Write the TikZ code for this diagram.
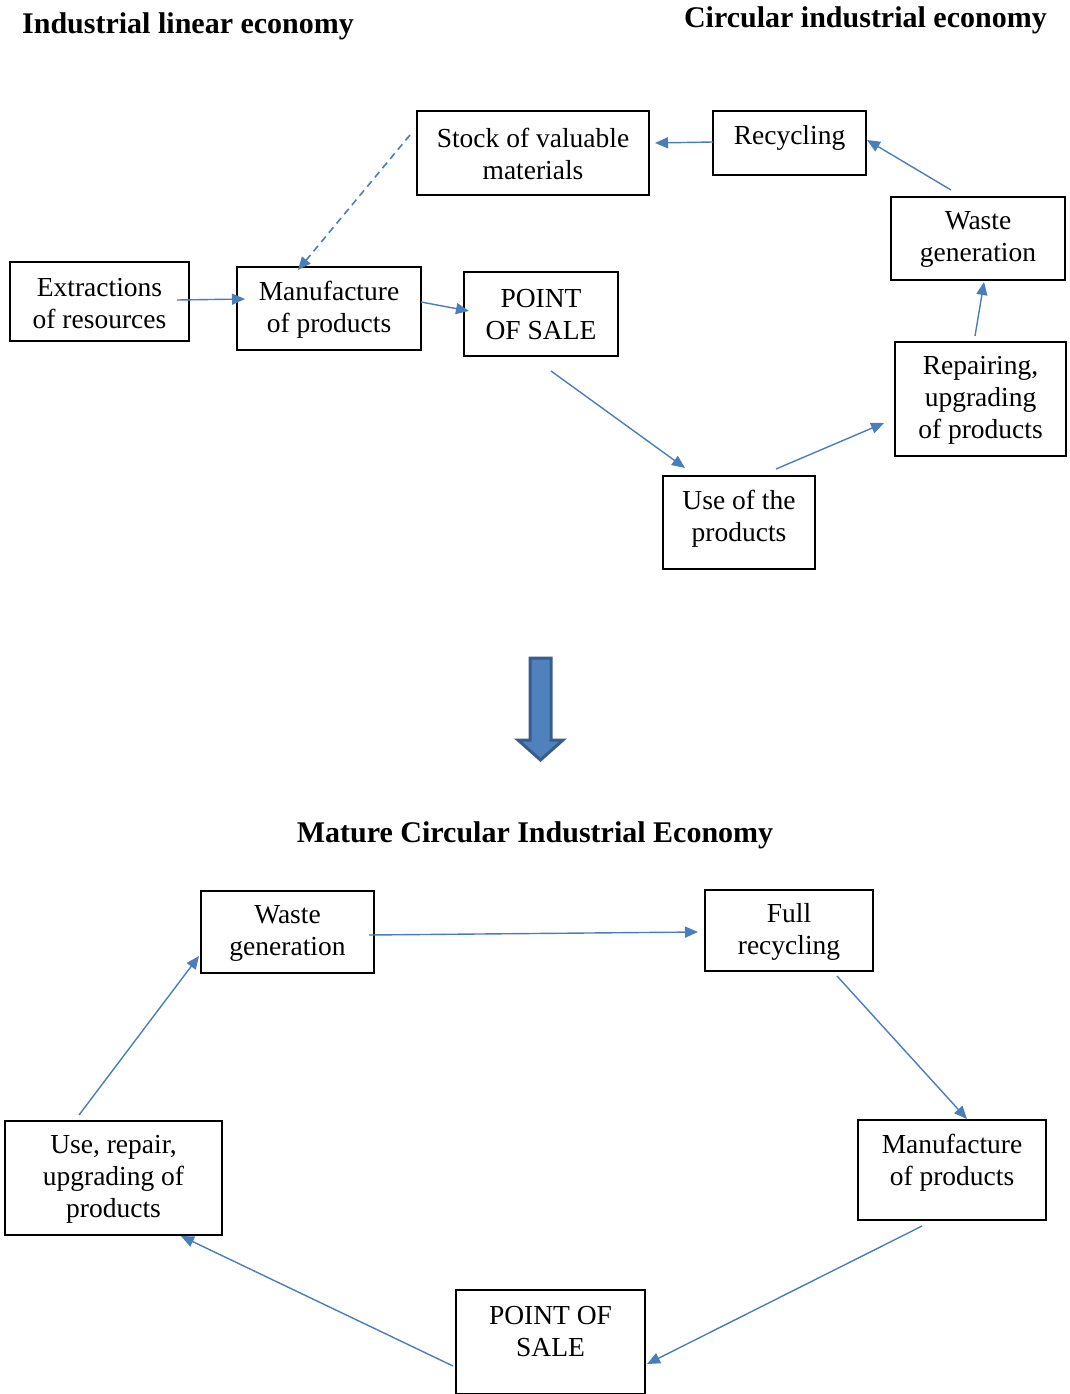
\documentclass[tikz,border=0pt]{standalone}
\usepackage{fontspec}
\setmainfont{Liberation Serif}
\usetikzlibrary{arrows.meta}
\definecolor{arrblue}{HTML}{4A7EBB}
\definecolor{bigfill}{HTML}{4F81BD}
\definecolor{bigdraw}{HTML}{385D8A}
\begin{document}
\begin{tikzpicture}[x=1pt,y=-1pt,
  box/.style={draw=black,line width=1.2pt,inner sep=0pt},
  txt/.style={inner sep=0pt,align=center,font=\fontsize{27.5}{32}\selectfont},
  flow/.style={draw=arrblue,line width=1.4pt,-{Triangle[length=13pt,width=11pt]}},
  title/.style={font=\fontsize{30}{34}\selectfont\bfseries,inner sep=0pt}]
\useasboundingbox (0,0) rectangle (1070,1394);
% titles
\node[title,anchor=west] (t1) at (22,26) {Industrial linear economy};
\node[title,anchor=east] (t2) at (1047,20) {Circular industrial economy};
\node[title] (t3) at (535,835) {Mature Circular Industrial Economy};
% top boxes
\node[box,minimum width=179pt,minimum height=79pt] (ext) at (99.5,301.5) {};
\node[txt] (ext-t) at (99.5,304) {Extractions\\of resources};
\node[box,minimum width=184pt,minimum height=83pt] (man) at (329,308.5) {};
\node[txt] (man-t) at (329,309.5) {Manufacture\\of products};
\node[box,minimum width=154pt,minimum height=84pt] (pos) at (541,314) {};
\node[txt] (pos-t) at (541,314.5) {POINT\\OF SALE};
\node[box,minimum width=232pt,minimum height=84pt] (stock) at (533,153) {};
\node[txt] (stock-t) at (533,154) {Stock of valuable\\materials};
\node[box,minimum width=153pt,minimum height=64pt] (rec) at (789.5,143) {};
\node[txt] (rec-t) at (789.5,137.5) {Recycling};
\node[box,minimum width=174pt,minimum height=83pt] (waste) at (978,238.5) {};
\node[txt] (waste-t) at (978,239.5) {Waste\\generation};
\node[box,minimum width=171pt,minimum height=114pt] (rep) at (980.5,399) {};
\node[txt] (rep-t) at (980.5,400.5) {Repairing,\\upgrading\\of products};
\node[box,minimum width=152pt,minimum height=93pt] (use) at (739,522.5) {};
\node[txt] (use-t) at (739,518.5) {Use of the\\products};
% endpoints
\coordinate (a1s) at (177,300); \coordinate (a1e) at (245,299);
\coordinate (a2s) at (421,302); \coordinate (a2e) at (469,311);
\coordinate (a3s) at (551,371); \coordinate (a3e) at (685,468);
\coordinate (a4s) at (776,469); \coordinate (a4e) at (884,423);
\coordinate (a5s) at (975,336); \coordinate (a5e) at (984,282);
\coordinate (a6s) at (951,190); \coordinate (a6e) at (867,140);
\coordinate (a7s) at (713,142); \coordinate (a7e) at (655,143);
\coordinate (a8s) at (410,135); \coordinate (a8e) at (298,270);
\draw[flow] (a1s) -- (a1e);
\draw[flow] (a2s) -- (a2e);
\draw[flow] (a3s) -- (a3e);
\draw[flow] (a4s) -- (a4e);
\draw[flow] (a5s) -- (a5e);
\draw[flow] (a6s) -- (a6e);
\draw[flow] (a7s) -- (a7e);
\draw[flow,dashed,dash pattern=on 7pt off 5pt,line width=1.6pt] (a8s) -- (a8e);
% big arrow
\draw[fill=bigfill,draw=bigdraw,line width=3pt,line join=miter]
  (530,658) -- (551,658) -- (551,740) -- (563,740) -- (540.5,760) -- (518,740) -- (530,740) -- cycle;
% bottom boxes
\node[box,minimum width=173pt,minimum height=82pt] (bwaste) at (287.5,932) {};
\node[txt] (bwaste-t) at (287.5,933) {Waste\\generation};
\node[box,minimum width=168pt,minimum height=81pt] (brec) at (789,930.5) {};
\node[txt] (brec-t) at (789,932) {Full\\recycling};
\node[box,minimum width=188pt,minimum height=100pt] (bman) at (952,1170) {};
\node[txt] (bman-t) at (952,1162.5) {Manufacture\\of products};
\node[box,minimum width=189pt,minimum height=104pt] (bpos) at (550.5,1342) {};
\node[txt] (bpos-t) at (550.5,1332) {POINT OF\\SALE};
\node[box,minimum width=217pt,minimum height=114pt] (buse) at (113.5,1178) {};
\node[txt] (buse-t) at (113.5,1179.5) {Use, repair,\\upgrading of\\products};
\coordinate (b1s) at (369,935); \coordinate (b1e) at (698,932);
\coordinate (b2s) at (837,976); \coordinate (b2e) at (967,1119);
\coordinate (b3s) at (922,1226); \coordinate (b3e) at (647,1364);
\coordinate (b4s) at (453,1366); \coordinate (b4e) at (181,1236);
\coordinate (b5s) at (79,1115); \coordinate (b5e) at (199,956);
\draw[flow] (b1s) -- (b1e);
\draw[flow] (b2s) -- (b2e);
\draw[flow] (b3s) -- (b3e);
\draw[flow] (b4s) -- (b4e);
\draw[flow] (b5s) -- (b5e);
\end{tikzpicture}
\end{document}
